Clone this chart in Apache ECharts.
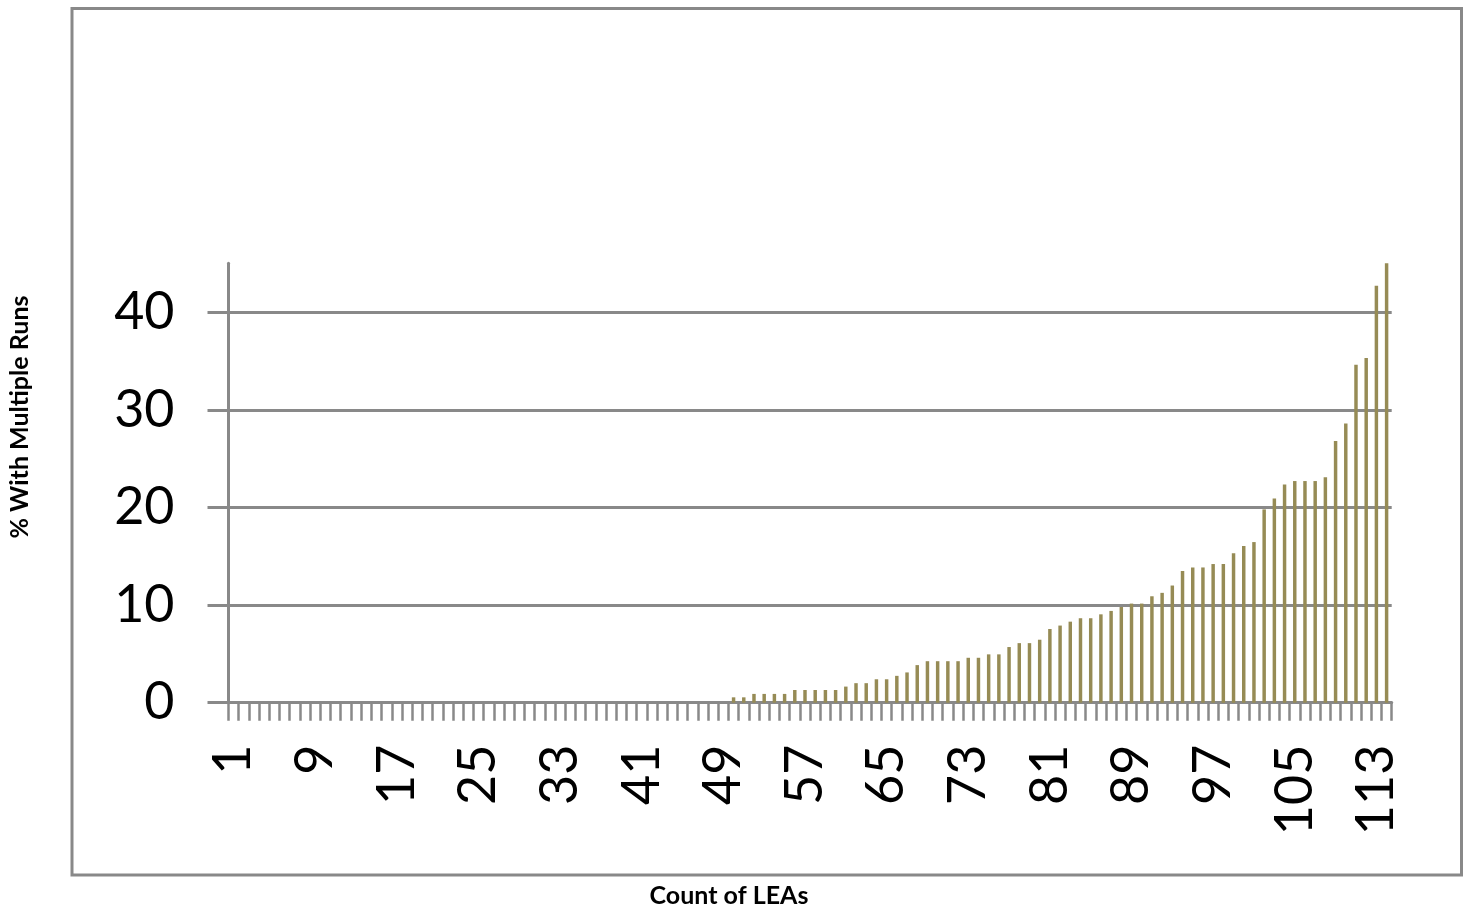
<!DOCTYPE html>
<html>
<head>
<meta charset="utf-8">
<script src="https://cdn.jsdelivr.net/npm/echarts@6/dist/echarts.min.js"></script>
<style>
html,body{margin:0;padding:0;background:#fff;}
#chart{width:1469px;height:907px;}
</style>
</head>
<body>
<div id="chart"></div>
<script>
const categories = [
  '1','2','3','4','5','6','7','8','9','10','11','12','13','14','15','16','17','18','19','20',
  '21','22','23','24','25','26','27','28','29','30','31','32','33','34','35','36','37','38','39','40',
  '41','42','43','44','45','46','47','48','49','50','51','52','53','54','55','56','57','58','59','60',
  '61','62','63','64','65','66','67','68','69','70','71','72','73','74','75','76','77','78','79','80',
  '81','82','83','84','85','86','87','88','89','90','91','92','93','94','95','96','97','98','99','100',
  '101','102','103','104','105','106','107','108','109','110','111','112','113','114'
];
const pctMultipleRuns = [
  0,0,0,0,0,0,0,0,0,0,0,0,0,0,0,0,0,0,0,0,
  0,0,0,0,0,0,0,0,0,0,0,0,0,0,0,0,0,0,0,0,
  0,0,0,0,0,0,0,0,0,
  0.55,0.55,0.9,0.9,0.9,0.9,1.3,1.3,1.3,1.3,1.3,1.65,2.0,2.0,2.4,2.4,2.75,3.1,3.85,4.25,
  4.25,4.25,4.25,4.6,4.6,4.95,4.95,5.7,6.1,6.1,6.45,7.55,7.9,8.3,8.65,8.65,9.05,9.4,9.8,10.15,
  10.15,10.9,11.25,12.0,13.5,13.85,13.85,14.2,14.2,15.3,16.05,16.45,19.8,20.9,22.35,22.7,22.7,22.7,23.1,26.8,
  28.6,34.6,35.3,42.7,45.0
];
const yTicks = [0, 10, 20, 30, 40];
const yAxisTitle = '% With Multiple Runs';
const xAxisTitle = 'Count of LEAs';

const gray = '#898989';
const font = 'Lato, "Open Sans", "Liberation Sans", sans-serif';

const chart = echarts.init(document.getElementById('chart'), null, {renderer: 'canvas'});
chart.setOption({
  animation: false,
  backgroundColor: '#ffffff',
  grid: {left: 228.5, right: 77.3, top: 263.3, bottom: 204.3, containLabel: false},
  xAxis: {
    type: 'category',
    data: categories,
    boundaryGap: true,
    axisLine: {show: true, lineStyle: {color: gray, width: 3}},
    axisTick: {show: true, interval: 0, length: 18, lineStyle: {color: gray, width: 2.5}},
    axisLabel: {
      interval: 7, rotate: 90, margin: 42,
      color: '#000', fontSize: 52, fontFamily: font
    },
    splitLine: {show: false}
  },
  yAxis: {
    type: 'value',
    min: 0,
    max: 45,
    axisLine: {show: true, lineStyle: {color: gray, width: 3}},
    axisTick: {show: true, customValues: yTicks, length: 21, lineStyle: {color: gray, width: 3}},
    axisLabel: {customValues: yTicks, margin: 54, color: '#000', fontSize: 52, fontFamily: font},
    splitLine: {show: true, lineStyle: {color: gray, width: 3}}
  },
  series: [{
    type: 'bar',
    data: pctMultipleRuns,
    barWidth: '34%',
    itemStyle: {color: '#968B55'},
    z: 1
  }],
  graphic: [
    {type: 'rect', shape: {x: 72, y: 8.5, width: 1389.5, height: 866.5},
     style: {fill: 'none', stroke: gray, lineWidth: 3}, z: -1, silent: true},
    {type: 'text', x: 20, y: 417, rotation: Math.PI / 2,
     style: {text: yAxisTitle, font: 'bold 25px ' + font, fill: '#000', align: 'center', verticalAlign: 'middle'}},
    {type: 'text', x: 729, y: 896,
     style: {text: xAxisTitle, font: 'bold 25px ' + font, fill: '#000', align: 'center', verticalAlign: 'middle'}}
  ]
});
</script>
</body>
</html>
